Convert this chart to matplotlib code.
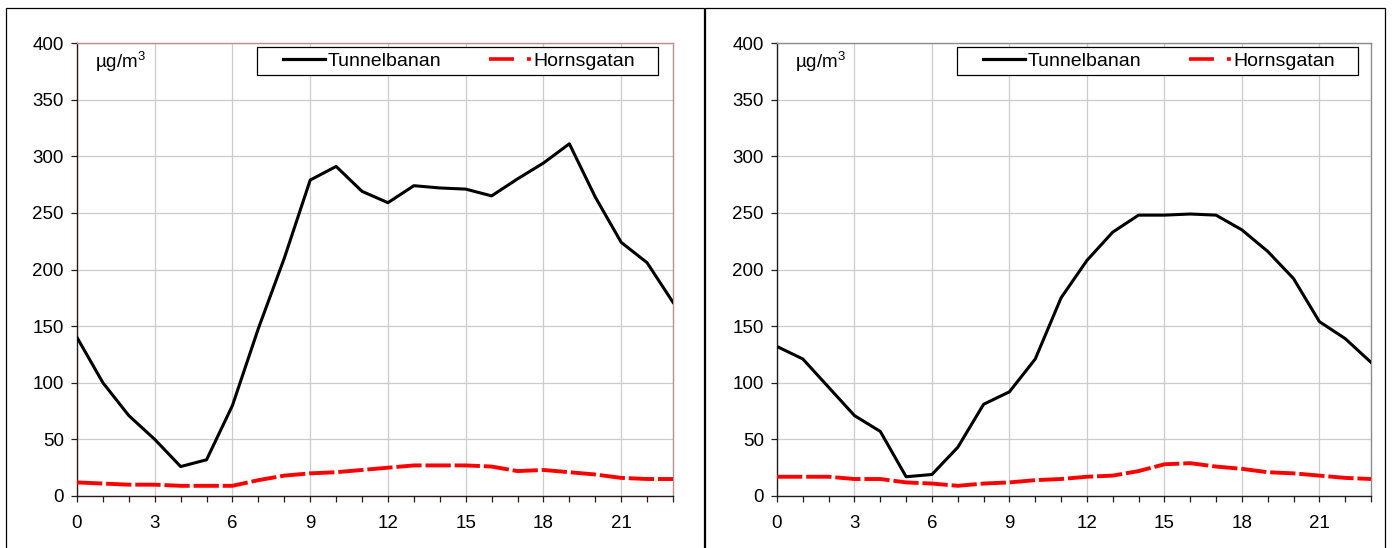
import matplotlib
matplotlib.use('Agg')
import matplotlib.pyplot as plt
from matplotlib.patches import Rectangle
from matplotlib.lines import Line2D
from matplotlib.ticker import MultipleLocator

plt.rcParams['font.family'] = ['Liberation Sans', 'DejaVu Sans']
plt.rcParams['mathtext.fontset'] = 'custom'
plt.rcParams['mathtext.rm'] = 'Liberation Sans'

# Data
hours = list(range(24))
tunnel_left = [140, 100, 71, 50, 26, 32, 80, 148, 210, 279, 291, 269,
               259, 274, 272, 271, 265, 280, 294, 311, 264, 224, 206, 171]
horns_left = [12, 11, 10, 10, 9, 9, 9, 14, 18, 20, 21, 23,
              25, 27, 27, 27, 26, 22, 23, 21, 19, 16, 15, 15]
tunnel_right = [132, 121, 96, 71, 57, 17, 19, 43, 81, 92, 121, 175,
                208, 233, 248, 248, 249, 248, 235, 216, 192, 154, 139, 118]
horns_right = [17, 17, 17, 15, 15, 12, 11, 9, 11, 12, 14, 15,
               17, 18, 22, 28, 29, 26, 24, 21, 20, 18, 16, 15]
series_names = ['Tunnelbanan', 'Hornsgatan']
unit_label = r'µg/m$^3$'

W, H = 1392, 548
FS = 13.5
LFS = 14
fig = plt.figure(figsize=(W / 100, H / 100), dpi=100)

# outer panel boxes (bottom edge is outside the picture)
for x0, x1 in [(6, 704), (705, 1385)]:
    fig.patches.append(Rectangle((x0 / W, -0.05), (x1 - x0) / W, (H - 8) / H + 0.05,
                                 transform=fig.transFigure, fill=False,
                                 edgecolor='black', linewidth=0.9))


def panel(left_px, right_px, tunnel, horns, frame_col, axis_col):
    w_px = right_px - left_px
    h_px = 496 - 43
    ax = fig.add_axes([left_px / W, (H - 496) / H, w_px / W, h_px / H])
    ax.plot(hours, tunnel, color='black', lw=2.2, zorder=3)
    ax.plot(hours, horns, color='#ff0000', lw=2.8, linestyle=(0, (6.5, 1.0)), zorder=3)
    ax.set_xlim(0, 23)
    ax.set_ylim(0, 400)
    ax.xaxis.set_major_locator(MultipleLocator(3))
    ax.xaxis.set_minor_locator(MultipleLocator(1))
    ax.yaxis.set_major_locator(MultipleLocator(50))
    ax.grid(True, which='major', color='#cccccc', lw=0.9)
    ax.set_axisbelow(True)
    ax.tick_params(axis='both', which='both', direction='out', length=4.5,
                   width=0.9, color=axis_col, labelsize=FS)
    ax.tick_params(axis='x', which='major', pad=9)
    ax.tick_params(axis='y', which='major', pad=5)
    for s in ['left', 'bottom']:
        ax.spines[s].set_color(axis_col)
        ax.spines[s].set_linewidth(1.0)
    for s in ['top', 'right']:
        ax.spines[s].set_color(frame_col)
        ax.spines[s].set_linewidth(1.0)
    ax.text(18 / w_px, (496 - 62) / h_px, unit_label, transform=ax.transAxes,
            fontsize=FS, va='center', ha='left')

    # legend box and entries
    bx0, bx1, by0, by1 = 180, 581, 496 - 75, 496 - 47
    ax.add_patch(Rectangle((bx0 / w_px, by0 / h_px), (bx1 - bx0) / w_px, (by1 - by0) / h_px,
                           transform=ax.transAxes, facecolor='white', edgecolor='black',
                           linewidth=0.9, zorder=4))
    handles = [Line2D([], [], color='black', lw=2.3),
               Line2D([], [], color='#ff0000', lw=2.6, dashes=(6.9, 3.6, 1.1, 30))]
    ax.legend(handles, series_names, loc='center left',
              bbox_to_anchor=(206 / w_px, (496 - 61) / h_px),
              ncol=2, frameon=False, fontsize=LFS, handlelength=2.15,
              handletextpad=0.12, borderpad=0, borderaxespad=0,
              columnspacing=2.5).set_zorder(5)
    return ax


panel(77, 673, tunnel_left, horns_left, '#b89090', '#2a1a1a')
panel(777, 1371, tunnel_right, horns_right, '#8c8c8c', '#202020')

fig.savefig('out.png', dpi=100)
